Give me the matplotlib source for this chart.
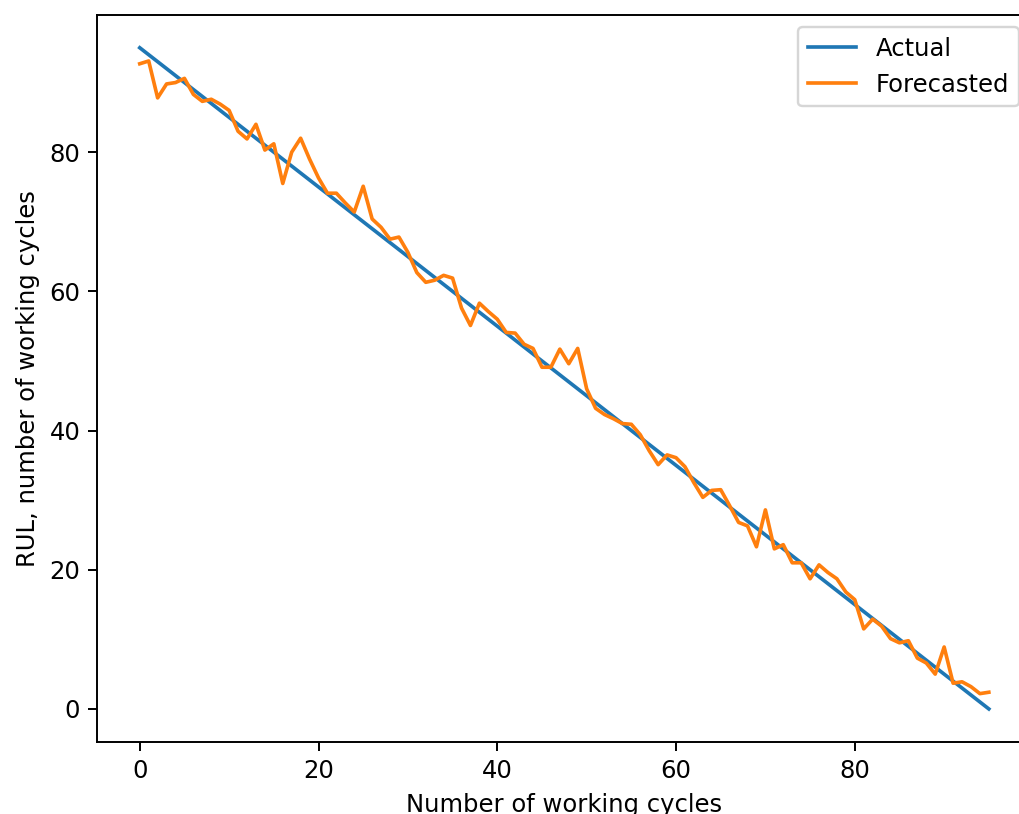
import numpy as np
from matplotlib import pyplot as plt

# cycles 0..95, actual RUL counts down to zero
cycles = list(range(96))
actual = [95 - c for c in cycles]

forecasted = [
    92.7, 93.1, 87.8, 89.8, 90.0, 90.6, 88.3, 87.3, 87.6, 86.9,
    86.0, 83.0, 81.9, 84.0, 80.3, 81.2, 75.5, 80.0, 82.0, 79.0,
    76.3, 74.1, 74.1, 72.7, 71.4, 75.1, 70.4, 69.2, 67.5, 67.8,
    65.6, 62.7, 61.3, 61.6, 62.3, 61.9, 57.6, 55.1, 58.3, 57.1,
    56.0, 54.1, 54.0, 52.4, 51.8, 49.1, 49.1, 51.7, 49.6, 51.8,
    46.0, 43.2, 42.3, 41.7, 41.0, 40.9, 39.4, 37.1, 35.1, 36.5,
    36.1, 34.8, 32.5, 30.4, 31.4, 31.5, 29.2, 26.8, 26.3, 23.3,
    28.6, 23.0, 23.6, 21.0, 21.0, 18.7, 20.7, 19.6, 18.7, 16.8,
    15.7, 11.5, 12.9, 11.9, 10.1, 9.5, 9.8, 7.3, 6.6, 5.0,
    8.9, 3.7, 3.9, 3.2, 2.2, 2.4,
]

DPI = 175
W, H = 1019, 814
fig = plt.figure(figsize=(W / DPI, H / DPI), dpi=DPI)
# the reference is cropped: right spine sits just past the image edge
ax = fig.add_axes([97.3 / W, (H - 742) / H, 934 / W, 727.3 / H])

ax.plot(cycles, actual, label="Actual")
ax.plot(cycles, forecasted, label="Forecasted")
ax.set_xlabel("Number of working cycles")
ax.set_ylabel("RUL, number of working cycles")
ax.legend()

fig.savefig("out.png", dpi=DPI)
